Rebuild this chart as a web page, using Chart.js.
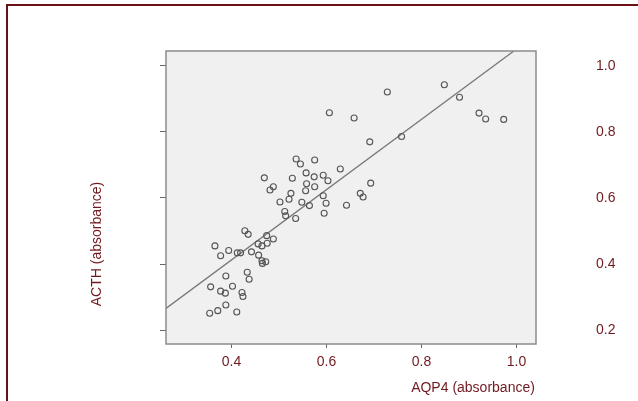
<!DOCTYPE html>
<html>
<head>
<meta charset="utf-8">
<script src="https://cdn.jsdelivr.net/npm/chart.js@4.4.1/dist/chart.umd.min.js"></script>
<style>
    body { margin: 0; background: #fff; }
    #wrap { position: relative; width: 638px; height: 401px; overflow: hidden; }
    #frame {
        position: absolute; left: 6px; top: 4px; width: 700px; height: 500px;
        border-left: 2px solid #6b1116; border-top: 2px solid #6b1116;
    }
    #chart { position: absolute; left: 0; top: 0; }
</style>
</head>
<body>
<div id="wrap">
    <div id="frame"></div>
    <canvas id="chart" width="638" height="401"></canvas>
</div>
<script>
// AQP4 vs ACTH absorbance
const aqp4 = [
    0.606, 0.536, 0.545, 0.575, 0.629, 0.469, 0.528, 0.557, 0.574, 0.593,
    0.603, 0.488, 0.481, 0.558, 0.575, 0.556, 0.525, 0.593, 0.502, 0.521,
    0.548, 0.564, 0.599, 0.595, 0.642, 0.512, 0.514, 0.535, 0.428, 0.435,
    0.474, 0.456, 0.464, 0.475, 0.488, 0.365, 0.394, 0.377, 0.412, 0.419,
    0.442, 0.457, 0.464, 0.465, 0.472, 0.433, 0.437, 0.388, 0.356, 0.377,
    0.387, 0.402, 0.422, 0.424, 0.388, 0.354, 0.371, 0.411, 0.728, 0.848,
    0.880, 0.921, 0.935, 0.973, 0.658, 0.691, 0.758, 0.693, 0.671, 0.677
];
const acth = [
    0.858, 0.718, 0.703, 0.715, 0.688, 0.661, 0.660, 0.676, 0.664, 0.669,
    0.652, 0.634, 0.624, 0.643, 0.634, 0.622, 0.614, 0.607, 0.588, 0.596,
    0.587, 0.577, 0.584, 0.554, 0.578, 0.559, 0.546, 0.538, 0.501, 0.490,
    0.486, 0.461, 0.455, 0.463, 0.476, 0.455, 0.441, 0.425, 0.434, 0.434,
    0.437, 0.427, 0.410, 0.402, 0.407, 0.375, 0.354, 0.364, 0.331, 0.318,
    0.312, 0.333, 0.314, 0.302, 0.276, 0.251, 0.259, 0.255, 0.921, 0.943,
    0.905, 0.857, 0.839, 0.838, 0.842, 0.770, 0.786, 0.645, 0.614, 0.603
];
const xTicks = [0.4, 0.6, 0.8, 1.0];
const yTicks = [0.2, 0.4, 0.6, 0.8, 1.0];
const xRange = [0.262, 1.041];
const yRange = [0.158, 1.045];
// linear fit line
const fitIntercept = -0.013;
const fitSlope = 1.064;

const darkRed = '#701a1f';
const font = 'Liberation Sans, Arial, sans-serif';

const points = aqp4.map((x, i) => ({ x: x, y: acth[i] }));
const fitLine = xRange.map(x => ({ x: x, y: fitIntercept + fitSlope * x }));

function fixSize(prop, size) {
    return axis => {
        axis[prop] = size;
        axis.paddingTop = 0;
        axis.paddingBottom = 0;
        axis.paddingLeft = 0;
        axis.paddingRight = 0;
    };
}

const plotBox = {
    id: 'plotBox',
    beforeDatasetsDraw(chart) {
        const a = chart.chartArea;
        const ctx = chart.ctx;
        ctx.save();
        ctx.fillStyle = '#f0f0f0';
        ctx.fillRect(a.left, a.top, a.right - a.left, a.bottom - a.top);
        ctx.restore();
    },
    afterDraw(chart) {
        const a = chart.chartArea;
        const ctx = chart.ctx;
        ctx.save();
        ctx.strokeStyle = '#8c8c8c';
        ctx.lineWidth = 1.5;
        ctx.strokeRect(a.left, a.top, a.right - a.left, a.bottom - a.top);

        ctx.fillStyle = darkRed;
        ctx.font = '14px ' + font;
        ctx.textAlign = 'center';
        ctx.textBaseline = 'middle';
        ctx.fillText('AQP4 (absorbance)', 473, 388);
        ctx.translate(97, 244);
        ctx.rotate(-Math.PI / 2);
        ctx.fillText('ACTH (absorbance)', 0, 0);
        ctx.restore();
    }
};

new Chart(document.getElementById('chart'), {
    type: 'scatter',
    data: {
        datasets: [{
            data: points,
            pointStyle: 'circle',
            pointRadius: 3,
            pointBorderWidth: 1.1,
            pointBorderColor: '#555',
            pointBackgroundColor: 'rgba(0,0,0,0)',
            pointHoverRadius: 3
        }, {
            type: 'line',
            data: fitLine,
            borderColor: '#7a7a7a',
            borderWidth: 1.3,
            pointRadius: 0,
            fill: false
        }]
    },
    options: {
        responsive: false,
        animation: false,
        layout: { padding: { top: 51, left: 0, right: 0, bottom: 0 } },
        plugins: {
            legend: { display: false },
            tooltip: { enabled: false }
        },
        scales: {
            x: {
                type: 'linear',
                position: 'bottom',
                min: xRange[0],
                max: xRange[1],
                afterBuildTicks: axis => { axis.ticks = xTicks.map(v => ({ value: v })); },
                afterFit: fixSize('height', 57),
                grid: { drawOnChartArea: false, drawTicks: true, tickLength: 4, color: '#666' },
                border: { display: false },
                ticks: {
                    color: darkRed,
                    font: { family: font, size: 14 },
                    padding: 6,
                    maxRotation: 0,
                    callback: v => v.toFixed(1)
                }
            },
            y: {
                type: 'linear',
                position: 'left',
                min: yRange[0],
                max: yRange[1],
                afterBuildTicks: axis => { axis.ticks = yTicks.map(v => ({ value: v })); },
                afterFit: fixSize('width', 166),
                grid: { drawOnChartArea: false, drawTicks: true, tickLength: 6, color: '#666' },
                border: { display: false },
                ticks: { display: false }
            },
            y2: {
                type: 'linear',
                position: 'right',
                min: yRange[0],
                max: yRange[1],
                afterBuildTicks: axis => { axis.ticks = yTicks.map(v => ({ value: v })); },
                afterFit: fixSize('width', 102),
                grid: { display: false, drawTicks: false },
                border: { display: false },
                ticks: {
                    color: darkRed,
                    font: { family: font, size: 14 },
                    padding: 60,
                    callback: v => v.toFixed(1)
                }
            }
        }
    },
    plugins: [plotBox]
});
</script>
</body>
</html>
